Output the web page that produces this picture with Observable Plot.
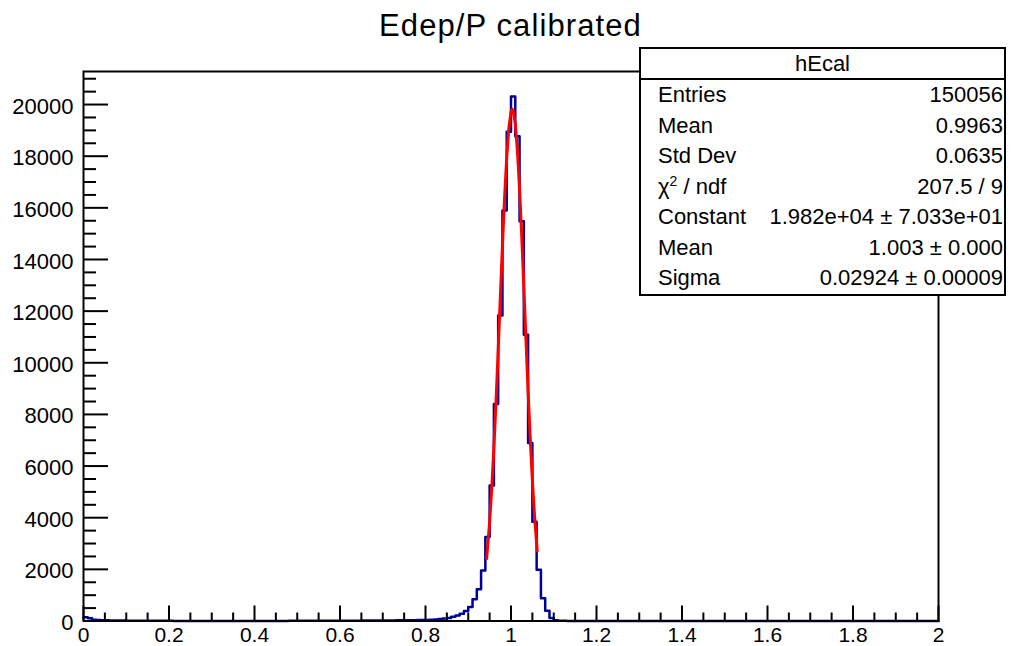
<!DOCTYPE html>
<html>
<head>
<meta charset="utf-8">
<script src="https://cdn.jsdelivr.net/npm/d3@7"></script>
<script src="https://cdn.jsdelivr.net/npm/@observablehq/plot@0.6"></script>
<style>
  html, body { margin: 0; padding: 0; background: #fff; }
  #wrap { position: relative; width: 1016px; height: 646px; overflow: hidden;
          font-family: "Liberation Sans", Arial, Helvetica, sans-serif; color: #000; }
  #title { position: absolute; left: 83px; width: 855px; top: 10px; text-align: center;
           font-size: 31px; line-height: 31px; letter-spacing: 1.1px; white-space: nowrap; }
  #stats { position: absolute; left: 639px; top: 47px; width: 367px; box-sizing: border-box;
           border: 2px solid #000; background: #fff; font-size: 22px; }
  #stats .hdr { height: 29px; line-height: 29px; text-align: center; border-bottom: 2px solid #000; }
  #stats .row { height: 30.5px; line-height: 30.5px; display: flex; justify-content: space-between;
                padding-left: 17px; padding-right: 1px; white-space: nowrap; }
  #stats sup { font-size: 14px; line-height: 0; vertical-align: 8px; }
  svg { position: absolute; left: 0; top: 0; }
</style>
</head>
<body>
<div id="wrap">
  <div id="chart"></div>
  <div id="title"></div>
  <div id="stats"></div>
</div>
<script>
// ---- Data ----
const titleText = "Edep/P calibrated";
const histName = "hEcal";
const binStart = 0;
const binWidth = 0.01;
// Bin contents, 200 bins of width 0.01 from 0 to 2
const counts = [
  150,110,45,35,30,25,22,20,18,16,
  14,12,10,9,8,7,6,6,5,5,
  5,4,4,4,4,3,3,3,3,3,
  3,3,3,3,3,3,3,3,3,3,
  3,3,3,4,4,4,4,4,5,5,
  5,5,6,6,6,7,7,8,8,9,
  10,10,12,12,14,15,16,17,18,19,
  20,22,24,25,27,29,31,33,36,39,
  42,50,60,75,95,120,160,210,282,387,
  540,840,1225,1960,3250,5250,8400,11830,15900,18950,
  20310,18770,15480,11085,6890,3840,1980,880,400,115,
  30,12,5,3,2,2,1,1,1,1,
  0,0,0,0,0,0,0,0,0,0,
  0,0,0,0,0,0,0,0,0,0,
  0,0,0,0,0,0,0,0,0,0,
  0,0,0,0,0,0,0,0,0,0,
  0,0,0,0,0,0,0,0,0,0,
  0,0,0,0,0,0,0,0,0,0,
  0,0,0,0,0,0,0,0,0,0,
  0,0,0,0,0,0,0,0,0,0
];
// Gaussian fit curve, as drawn (red)
const fitX = [0.943,0.95,0.955,0.96,0.965,0.97,0.975,0.98,0.985,0.99,0.995,1.0,1.003,1.005,1.01,1.015,1.02,1.025,1.03,1.035,1.04,1.045,1.05,1.055,1.0613];
const fitY = [2414,3834,5151,6723,8518,10485,12530,14546,16399,17955,19093,19716,19820,19774,19260,18219,16738,14934,12940,10889,8901,7064,5447,4077,2715];
// Axis ticks
const xMajorTicks = [0,0.2,0.4,0.6,0.8,1,1.2,1.4,1.6,1.8,2];
const xMinorTicks = d3.range(0, 2.0001, 0.05).map(v => +v.toFixed(2));
const yMajorTicks = [0,2000,4000,6000,8000,10000,12000,14000,16000,18000,20000];
const yMinorTicks = d3.range(0, 21001, 500);
const yMax = 21280;
// Stats box
const statLabels = ["Entries","Mean","Std Dev","χ<sup>2</sup> / ndf","Constant","Mean","Sigma"];
const statValues = ["150056","0.9963","0.0635","207.5 / 9","1.982e+04 ± 7.033e+01","1.003 ± 0.000","0.02924 ± 0.00009"];

// ---- Build ----
const W = 1016, H = 646;
const mL = 83, mR = 78, mT = 71, mB = 25.5;
const plotW = W - mL - mR, plotH = H - mT - mB;

const histPts = counts.map((c, i) => ({x: binStart + i * binWidth, y: c}));
histPts.push({x: binStart + counts.length * binWidth, y: counts[counts.length - 1]});
const fitPts = fitX.map((x, i) => ({x, y: fitY[i]}));

const font = '"Liberation Sans", Arial, Helvetica, sans-serif';
const chart = Plot.plot({
  width: W, height: H,
  marginLeft: mL, marginRight: mR, marginTop: mT, marginBottom: mB,
  style: {fontFamily: font, background: "#fff", color: "#000", overflow: "visible"},
  x: {domain: [0, 2]},
  y: {domain: [0, yMax]},
  marks: [
    Plot.line(histPts, {x: "x", y: "y", curve: "step-after", stroke: "#000099", strokeWidth: 2.5}),
    Plot.line(fitPts, {x: "x", y: "y", stroke: "#ff0000", strokeWidth: 3}),
    Plot.ruleY(yMinorTicks.filter(v => v % 2000 !== 0), {y: d => d, stroke: "#000", strokeWidth: 2, insetRight: plotW - 13}),
    Plot.ruleY(yMajorTicks, {y: d => d, stroke: "#000", strokeWidth: 2, insetRight: plotW - 25}),
    Plot.ruleX(xMinorTicks.filter(v => Math.abs(v * 5 - Math.round(v * 5)) > 1e-6), {x: d => d, stroke: "#000", strokeWidth: 2, insetTop: plotH - 8}),
    Plot.ruleX(xMajorTicks, {x: d => d, stroke: "#000", strokeWidth: 2, insetTop: plotH - 15}),
    Plot.frame({stroke: "#000", strokeWidth: 2}),
    Plot.axisY(yMajorTicks, {anchor: "left", tickSize: 0, tickPadding: 10, fontSize: 22, label: null, tickFormat: d => String(d), dy: 2}),
    Plot.axisX(xMajorTicks, {anchor: "bottom", tickSize: 0, tickPadding: 6, fontSize: 21, label: null, tickFormat: d => String(d)})
  ]
});
document.getElementById("chart").appendChild(chart);

document.getElementById("title").textContent = titleText;
const stats = document.getElementById("stats");
let html = `<div class="hdr">${histName}</div>`;
statLabels.forEach((l, i) => {
  html += `<div class="row"><span>${l}</span><span>${statValues[i]}</span></div>`;
});
stats.innerHTML = html;
</script>
</body>
</html>
